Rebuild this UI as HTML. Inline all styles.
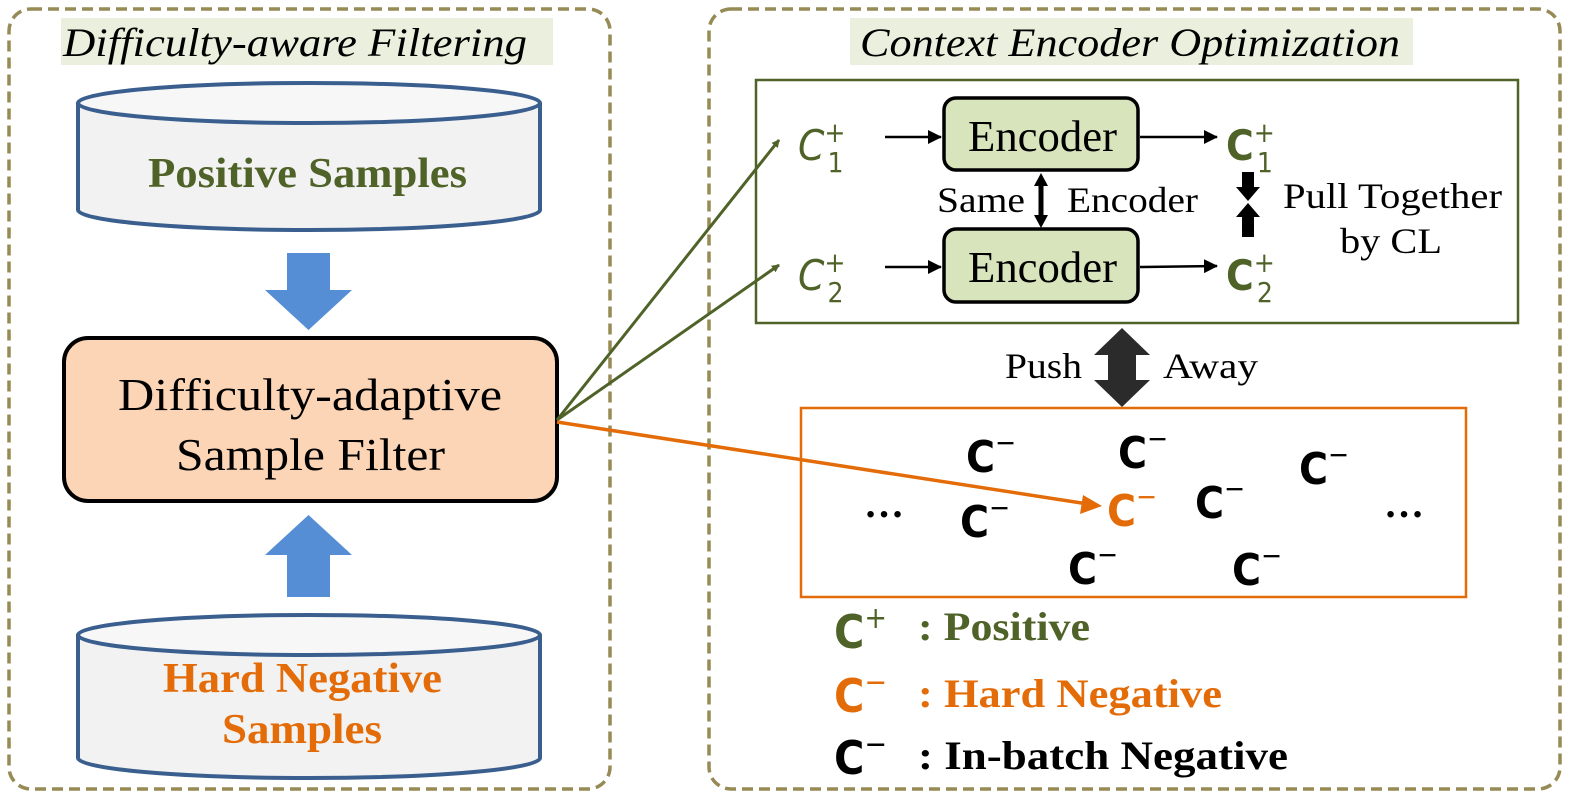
<!DOCTYPE html>
<html><head><meta charset="utf-8"><style>
html,body{margin:0;padding:0;background:#fff;}
svg{display:block;}
text{font-family:"Liberation Serif",serif;}
text.cm{font-family:"DejaVu Sans Condensed","Liberation Sans Narrow","Liberation Sans",sans-serif;font-weight:bold;}
text.ci{font-family:"DejaVu Sans Condensed","Liberation Sans",sans-serif;font-style:italic;}
</style></head><body>
<svg width="1579" height="811" viewBox="0 0 1579 811" xmlns="http://www.w3.org/2000/svg">
<defs>
<marker id="ag" markerWidth="8" markerHeight="8" refX="7" refY="4" orient="auto" markerUnits="userSpaceOnUse" viewBox="0 0 8 8"><path d="M0,0 L8,4 L0,8z" fill="#4f6228"/></marker>
<marker id="ab" markerWidth="14" markerHeight="14" refX="13" refY="7" orient="auto" markerUnits="userSpaceOnUse"><path d="M0,0 L14,7 L0,14z" fill="#000"/></marker>
</defs>
<rect x="9" y="9" width="601" height="780" rx="22" fill="none" stroke="#968a55" stroke-width="3.5" stroke-dasharray="11,6"/>
<rect x="709" y="9" width="851" height="780" rx="22" fill="none" stroke="#968a55" stroke-width="3.5" stroke-dasharray="11,6"/>
<rect x="61" y="18" width="492" height="47" fill="#ebefdd"/>
<text x="63" y="56" font-size="40" font-style="italic" textLength="464" lengthAdjust="spacingAndGlyphs">Difficulty-aware Filtering</text>
<rect x="850" y="18" width="563" height="47" fill="#ebefdd"/>
<text x="860" y="56" font-size="40" font-style="italic" textLength="540" lengthAdjust="spacingAndGlyphs">Context Encoder Optimization</text>

<path d="M78,103 L78,210 A231,20 0 0 0 540,210 L540,103" fill="#f2f2f2" stroke="#3a5f8f" stroke-width="4"/>
<ellipse cx="309" cy="103" rx="231" ry="20" fill="#f7f7f7" stroke="#3a5f8f" stroke-width="4"/>
<text x="148" y="187" font-size="42" font-weight="bold" fill="#4f6228" textLength="319" lengthAdjust="spacingAndGlyphs">Positive Samples</text>

<path d="M287,253 H330 V290 H352 L308.5,330 L265,290 H287Z" fill="#558ed5"/>
<path d="M287,597 H330 V555 H352 L308.5,515 L265,555 H287Z" fill="#558ed5"/>

<rect x="64" y="338" width="493" height="163" rx="24" fill="#fbd5b5" stroke="#000" stroke-width="4"/>
<text x="118" y="410" font-size="46" textLength="384" lengthAdjust="spacingAndGlyphs">Difficulty-adaptive</text>
<text x="176" y="470" font-size="46" textLength="269" lengthAdjust="spacingAndGlyphs">Sample Filter</text>

<path d="M78,635 L78,758 A231,20 0 0 0 540,758 L540,635" fill="#f2f2f2" stroke="#3a5f8f" stroke-width="4"/>
<ellipse cx="309" cy="635" rx="231" ry="20" fill="#f7f7f7" stroke="#3a5f8f" stroke-width="4"/>
<text x="163" y="692" font-size="42" font-weight="bold" fill="#e36c09" textLength="279" lengthAdjust="spacingAndGlyphs">Hard Negative</text>
<text x="222" y="743" font-size="42" font-weight="bold" fill="#e36c09" textLength="160" lengthAdjust="spacingAndGlyphs">Samples</text>

<line x1="557" y1="420" x2="779" y2="140" stroke="#4f6228" stroke-width="3" marker-end="url(#ag)"/>
<line x1="557" y1="420" x2="779" y2="265" stroke="#4f6228" stroke-width="3" marker-end="url(#ag)"/>
<line x1="557" y1="422" x2="1088" y2="504" stroke="#e36c09" stroke-width="3.5"/>
<path d="M1102,506 L1083,495 L1080,514Z" fill="#e36c09"/>

<rect x="756" y="80" width="762" height="243" fill="none" stroke="#4f6228" stroke-width="2.5"/>
<rect x="944" y="98" width="194" height="72" rx="12" fill="#d7e4bc" stroke="#000" stroke-width="3.5"/>
<rect x="944" y="229" width="194" height="73" rx="12" fill="#d7e4bc" stroke="#000" stroke-width="3.5"/>
<text x="968" y="151" font-size="44" textLength="149" lengthAdjust="spacingAndGlyphs">Encoder</text>
<text x="968" y="282" font-size="44" textLength="149" lengthAdjust="spacingAndGlyphs">Encoder</text>
<text x="798" y="160" font-size="42" fill="#4f6228" class="ci">C<tspan font-size="28" font-style="normal" dy="-18">+</tspan><tspan font-size="28" font-style="normal" dx="-18" dy="30">1</tspan></text>
<text x="798" y="290" font-size="42" fill="#4f6228" class="ci">C<tspan font-size="28" font-style="normal" dy="-18">+</tspan><tspan font-size="28" font-style="normal" dx="-18" dy="30">2</tspan></text>
<line x1="885" y1="137" x2="941" y2="137" stroke="#000" stroke-width="2.5" marker-end="url(#ab)"/>
<line x1="885" y1="267" x2="941" y2="267" stroke="#000" stroke-width="2.5" marker-end="url(#ab)"/>
<line x1="1140" y1="137" x2="1217" y2="137" stroke="#000" stroke-width="2.5" marker-end="url(#ab)"/>
<line x1="1140" y1="267" x2="1217" y2="266" stroke="#000" stroke-width="2.5" marker-end="url(#ab)"/>
<text x="1226" y="160" font-size="42" fill="#4f6228" class="cm">C<tspan font-size="28" font-weight="normal" dy="-18">+</tspan><tspan font-size="28" font-weight="normal" dx="-18" dy="30">1</tspan></text>
<text x="1226" y="290" font-size="42" fill="#4f6228" class="cm">C<tspan font-size="28" font-weight="normal" dy="-18">+</tspan><tspan font-size="28" font-weight="normal" dx="-18" dy="30">2</tspan></text>
<text x="937" y="212" font-size="36" textLength="88" lengthAdjust="spacingAndGlyphs">Same</text>
<text x="1067" y="212" font-size="36" textLength="131" lengthAdjust="spacingAndGlyphs">Encoder</text>
<path d="M1041,173 L1048,186 H1043.5 V215 H1048 L1041,228 L1034,215 H1038.5 V186 H1034Z" fill="#000"/>
<path d="M1242,172 H1254 V187 H1260 L1248,201 L1236,187 H1242Z" fill="#000"/>
<path d="M1242,237 H1254 V217 H1260 L1248,203 L1236,217 H1242Z" fill="#000"/>
<text x="1283" y="208" font-size="36" textLength="219" lengthAdjust="spacingAndGlyphs">Pull Together</text>
<text x="1340" y="253" font-size="36" textLength="102" lengthAdjust="spacingAndGlyphs">by CL</text>

<path d="M1122,328 L1150,355 H1136 V380 H1150 L1122,407 L1094,380 H1108 V355 H1094Z" fill="#2b2b2b"/>
<text x="1005" y="378" font-size="36" textLength="77" lengthAdjust="spacingAndGlyphs">Push</text>
<text x="1163" y="378" font-size="36" textLength="95" lengthAdjust="spacingAndGlyphs">Away</text>

<rect x="801" y="408" width="665" height="189" fill="none" stroke="#e36c09" stroke-width="2.5"/>
<text class="cm" x="966" y="472" font-size="44" fill="#000">C<tspan font-size="28" font-weight="normal" dy="-20">−</tspan></text>
<text class="cm" x="1118" y="468" font-size="44" fill="#000">C<tspan font-size="28" font-weight="normal" dy="-20">−</tspan></text>
<text class="cm" x="1299" y="484" font-size="44" fill="#000">C<tspan font-size="28" font-weight="normal" dy="-20">−</tspan></text>
<text class="cm" x="1195" y="518" font-size="44" fill="#000">C<tspan font-size="28" font-weight="normal" dy="-20">−</tspan></text>
<text class="cm" x="960" y="537" font-size="44" fill="#000">C<tspan font-size="28" font-weight="normal" dy="-20">−</tspan></text>
<text class="cm" x="1068" y="584" font-size="44" fill="#000">C<tspan font-size="28" font-weight="normal" dy="-20">−</tspan></text>
<text class="cm" x="1232" y="585" font-size="44" fill="#000">C<tspan font-size="28" font-weight="normal" dy="-20">−</tspan></text>
<text class="cm" x="1107" y="526" font-size="44" fill="#e36c09">C<tspan font-size="28" font-weight="normal" dy="-20">−</tspan></text>
<text x="864" y="517" font-size="40" font-weight="bold">…</text>
<text x="1384" y="517" font-size="40" font-weight="bold">…</text>

<text x="834" y="648" font-size="46" fill="#4f6228" class="cm">C<tspan font-size="30" font-weight="normal" dy="-20">+</tspan></text>
<text x="918" y="640" font-size="40" font-weight="bold" fill="#4f6228" textLength="172" lengthAdjust="spacingAndGlyphs">: Positive</text>
<text x="834" y="712" font-size="46" fill="#e36c09" class="cm">C<tspan font-size="30" font-weight="normal" dy="-20">−</tspan></text>
<text x="918" y="707" font-size="40" font-weight="bold" fill="#e36c09" textLength="304" lengthAdjust="spacingAndGlyphs">: Hard Negative</text>
<text x="834" y="774" font-size="46" fill="#000" class="cm">C<tspan font-size="30" font-weight="normal" dy="-20">−</tspan></text>
<text x="918" y="769" font-size="40" font-weight="bold" textLength="370" lengthAdjust="spacingAndGlyphs">: In-batch Negative</text>
</svg>
</body></html>
